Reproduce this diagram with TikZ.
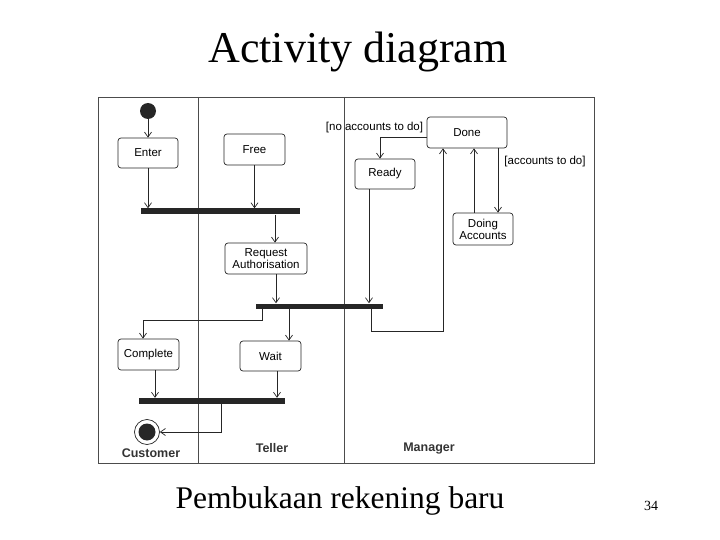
\documentclass[tikz,border=0pt]{standalone}
\usepackage{fontspec}
\setmainfont{Liberation Serif}
\setsansfont{Liberation Sans}
\usetikzlibrary{arrows.meta}

\tikzset{
  act/.style={rectangle,rounded corners=3pt,draw=black!85,line width=0.7pt,
    font=\sffamily\fontsize{11.5}{12}\selectfont,align=center,
    inner sep=0pt},
  bar/.style={rectangle,fill=black!85,draw=none,inner sep=0pt},
  lane/.style={font=\sffamily\bfseries\fontsize{12.5}{14}\selectfont,text=black!80},
  guard/.style={font=\sffamily\fontsize{11.5}{12}\selectfont,inner sep=0pt},
  flow/.style={draw=black!85,line width=0.7pt,-{Straight Barb[length=5pt,width=7pt]}}
}

\begin{document}
\begin{tikzpicture}[x=1pt,y=-1pt]
  \useasboundingbox (0,0) rectangle (720,540);

  \node[font=\fontsize{44}{50}\selectfont,anchor=base] (T) at (358,63) {Activity diagram};

  \draw[black!70,line width=0.9pt] (98,97) rectangle (594,463);
  \draw[black!70,line width=0.9pt] (198,97) -- (198,463);
  \draw[black!70,line width=0.9pt] (344,97) -- (344,463);

  \node[circle,fill=black!85,minimum size=16pt,inner sep=0pt] (S) at (148,111) {};

  \node[act,minimum width=60pt,minimum height=30pt] (Enter) at (148,153) {Enter};
  \node[act,minimum width=61pt,minimum height=31pt] (Free) at (254.5,149.5) {Free};
  \node[bar,minimum width=159pt,minimum height=6pt] (B1) at (220.5,211.5) {};
  \node[act,minimum width=82pt,minimum height=31pt] (Req) at (266,258.5) {Request\\Authorisation};

  \node[act,minimum width=80pt,minimum height=31pt] (Done) at (467,132.5) {Done};
  \node[act,minimum width=60pt,minimum height=30pt] (Ready) at (385,174) {Ready};
  \node[act,minimum width=60pt,minimum height=32pt] (Doing) at (483,229) {Doing\\Accounts};
  \node[guard] (NL) at (374.5,128) {[no accounts to do]};
  \node[guard] (AL) at (545,162) {[accounts to do]};

  \node[bar,minimum width=127pt,minimum height=5pt] (B2) at (319.5,306) {};
  \node[act,minimum width=61pt,minimum height=31pt] (Complete) at (148.5,354.5) {Complete};
  \node[act,minimum width=61pt,minimum height=30pt] (Wait) at (270.5,356) {Wait};
  \node[bar,minimum width=146pt,minimum height=6pt] (B3) at (212,401) {};

  \node[circle,draw=black!85,line width=0.7pt,minimum size=25pt,inner sep=0pt] (F) at (147,432) {};
  \node[circle,fill=black!85,minimum size=17pt,inner sep=0pt] (FI) at (147,432) {};

  \node[lane] (LC) at (151,453) {Customer};
  \node[lane] (LT) at (272,448) {Teller};
  \node[lane] (LM) at (429,449) {Manager};

  \coordinate (R1) at (371,331);
  \coordinate (C1) at (262,320);
  \coordinate (E1) at (221,432);

  \draw[flow] (S) -- (Enter);
  \draw[flow] (Enter) -- (Enter |- B1.north);
  \draw[flow] (Free) -- (Free |- B1.north);
  \draw[flow] ([xshift=9pt]Req.north |- B1.south) -- ([xshift=9pt]Req.north);
  \draw[flow] ([xshift=10pt]Req.south) -- ([xshift=10pt]Req.south |- B2.north);

  \draw[flow] ([yshift=-4.5pt]Done.west) -| ([xshift=-5pt]Ready.north);
  \draw[flow] ([xshift=-16pt]Ready.south) -- ([xshift=-16pt]Ready.south |- B2.north);
  \draw[flow] (B2.south -| R1) -- (R1) -| ([xshift=-24pt]Done.south);
  \draw[flow] ([xshift=31pt]Done.south) -- ([xshift=31pt]Done.south |- Doing.north);
  \draw[flow] ([xshift=-9pt]Doing.north) -- ([xshift=-9pt]Doing.north |- Done.south);

  \draw[flow] (B2.south -| C1) -- (C1) -| ([xshift=-5.5pt]Complete.north);
  \draw[flow] ([xshift=18.5pt]Wait.north |- B2.south) -- ([xshift=18.5pt]Wait.north);
  \draw[flow] ([xshift=6.5pt]Complete.south) -- ([xshift=6.5pt]Complete.south |- B3.north);
  \draw[flow] ([xshift=6.5pt]Wait.south) -- ([xshift=6.5pt]Wait.south |- B3.north);
  \draw[flow] (B3.south -| E1) -- (E1) -- (F);

  \node[font=\fontsize{31.5}{36}\selectfont,anchor=base] (P) at (340,508) {Pembukaan rekening baru};
  \node[font=\fontsize{14}{16}\selectfont,anchor=base] (N) at (651,510) {34};
\end{tikzpicture}
\end{document}
